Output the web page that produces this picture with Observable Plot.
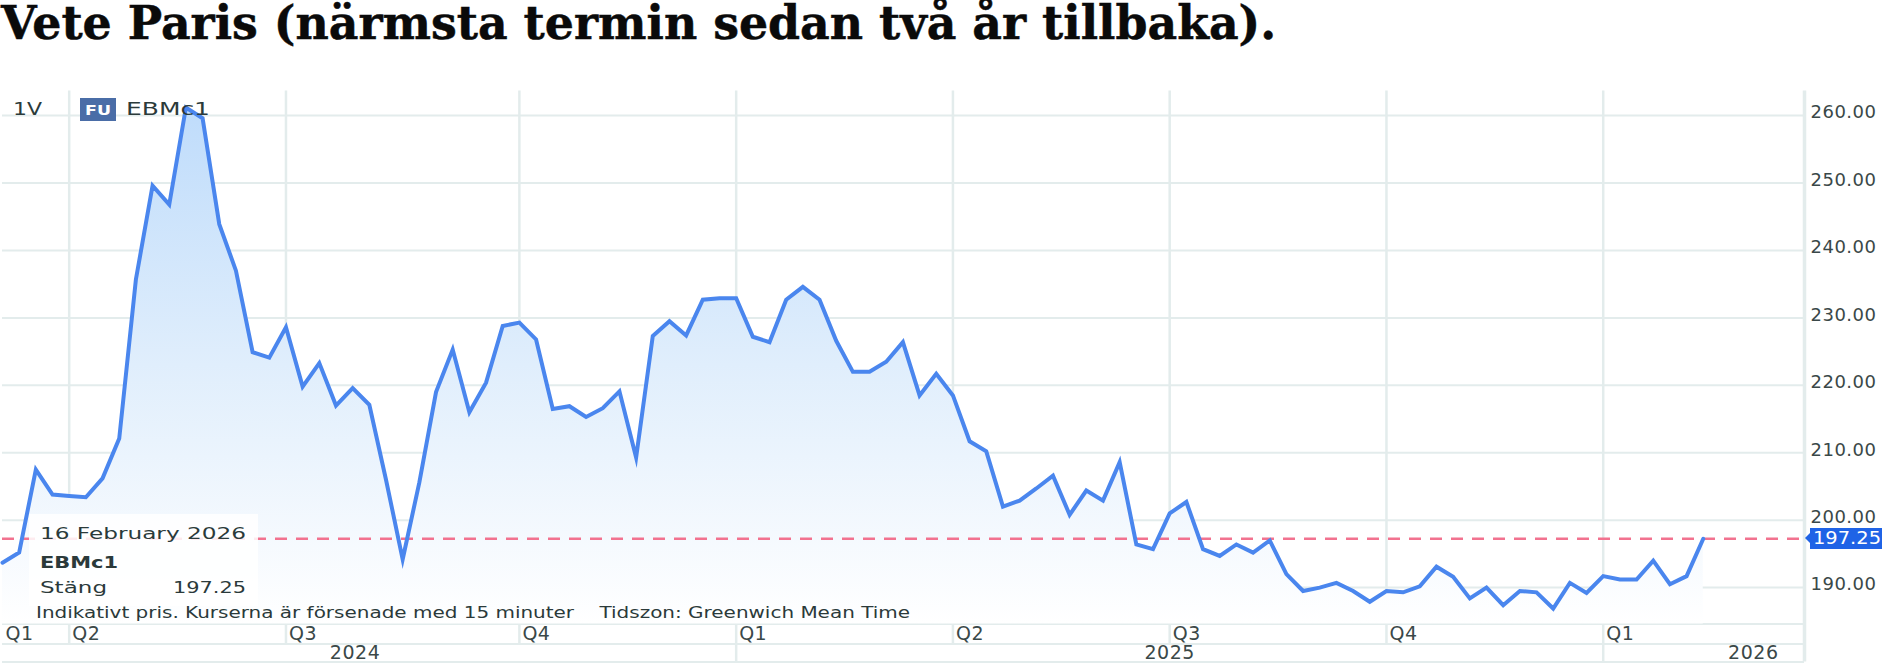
<!DOCTYPE html>
<html lang="sv">
<head>
<meta charset="utf-8">
<script src="https://cdn.jsdelivr.net/npm/d3@7"></script>
<script src="https://cdn.jsdelivr.net/npm/@observablehq/plot@0.6"></script>
<style>
html,body{margin:0;padding:0;background:#fff;width:1891px;height:664px;overflow:hidden}
#wrap{position:relative;width:1891px;height:664px}
h1{margin:0;font:700 45.8px/1 "DejaVu Serif",serif;color:#0a0a0a;white-space:nowrap;position:absolute;left:1px;top:1px;-webkit-text-stroke:.5px #0a0a0a}
#chart{position:absolute;left:0;top:64px}
.o{position:absolute;font-family:"DejaVu Sans",sans-serif;color:#2b3a3a;white-space:pre;line-height:1;transform-origin:0 50%}
</style>
</head>
<body>
<div id="wrap">
<h1>Vete Paris (närmsta termin sedan två år tillbaka).</h1>
<div id="chart"></div>
</div>
<script>
const lastValue = 197.25;
const closes = [
193.7,195.2,207.5,203.8,203.6,203.4,206.2,212.1,235.7,249.6,
246.8,261.2,259.6,243.9,237.0,224.9,224.1,228.6,219.8,223.3,
217.0,219.6,217.1,206.0,194.2,205.6,219.0,225.3,216.0,220.4,
228.8,229.3,226.8,216.5,216.9,215.3,216.6,219.1,209.3,227.3,
229.5,227.4,232.7,232.9,232.9,227.2,226.4,232.7,234.6,232.7,
226.6,222.0,222.0,223.5,226.4,218.5,221.7,218.5,211.7,210.2,
202.0,202.9,204.7,206.6,200.8,204.4,202.9,208.6,196.4,195.7,
201.0,202.7,195.7,194.7,196.4,195.2,197.0,192.0,189.5,190.0,
190.7,189.5,187.9,189.5,189.3,190.2,193.1,191.6,188.4,190.0,
187.4,189.5,189.3,186.9,190.7,189.2,191.7,191.2,191.2,194.0,
190.5,191.7,197.25];
const weeks = d3.utcMonday.range(new Date("2024-03-04"), new Date("2026-02-17"));
const rows = closes.map((close, i) => ({date: weeks[i], close}));

const quarterDates = ["2024-04-01","2024-07-01","2024-10-07","2025-01-06","2025-04-07","2025-07-07","2025-10-06","2026-01-05"].map(d => new Date(d));
const quarterLabelDates = [new Date("2024-03-04"),...quarterDates];
const quarterLabels = ["Q1","Q2","Q3","Q4","Q1","Q2","Q3","Q4","Q1"];
const yearDates = ["2024-07-30","2025-07-07","2026-03-09"].map(d => new Date(d));
const yearLabels = ["2024","2025","2026"];
const yearSeparators = [new Date("2025-01-06"), new Date("2026-01-05")];
const priceTicks = [190,200,210,220,230,240,250,260];

const xDomain = [new Date("2024-03-04"), new Date("2026-03-30T12:00")];
const yBottom = 184.59, yRow2 = 181.63, yRow3 = 178.96;
const gridColor = "#e3ecec";
const labelColor = "#3a4848";

const chart = Plot.plot({
  width:1891, height:600,
  marginTop:26.6, marginBottom:40.4, marginLeft:2, marginRight:87,
  x:{type:"utc", domain:xDomain, axis:null},
  y:{domain:[yBottom,263.63], axis:null},
  style:{background:"#fff"},
  marks:[
    Plot.ruleY(priceTicks,{x1:xDomain[0],x2:xDomain[1],stroke:gridColor,strokeWidth:2}),
    Plot.ruleX(quarterDates,{y1:yRow2,y2:263.63,stroke:gridColor,strokeWidth:2.5}),
    Plot.ruleX(yearSeparators,{y1:yRow3,y2:yRow2,stroke:gridColor,strokeWidth:2.5}),
    Plot.ruleY([yBottom,yRow2,yRow3],{x1:xDomain[0],x2:xDomain[1],stroke:gridColor,strokeWidth:2}),
    Plot.ruleX([xDomain[1]],{y1:yRow3,y2:263.63,stroke:gridColor,strokeWidth:3.5}),
    Plot.areaY(rows,{x:"date",y1:yBottom,y2:"close",fill:"url(#areaFill)"}),
    Plot.ruleY([lastValue],{x1:xDomain[0],x2:xDomain[1],stroke:"#f2728f",strokeWidth:2.5,strokeDasharray:"12 9"}),
    Plot.lineY(rows,{x:"date",y:"close",stroke:"#4a86ee",strokeWidth:4,strokeLinejoin:"miter",strokeMiterlimit:6}),
    Plot.axisY(priceTicks,{anchor:"right",label:null,tickSize:0,tickPadding:6,dy:-3,tickFormat:d3.format(".2f"),fill:labelColor,fontFamily:"DejaVu Sans",fontSize:18}),
    Plot.text(quarterLabelDates,{x:d=>d,y:yBottom,text:(d,i)=>quarterLabels[i],textAnchor:"start",lineAnchor:"top",dx:3,dy:2,fill:labelColor,fontFamily:"DejaVu Sans",fontSize:19}),
    Plot.text(yearDates,{x:d=>d,y:yRow2,text:(d,i)=>yearLabels[i],textAnchor:"middle",lineAnchor:"top",dy:1,fill:labelColor,fontFamily:"DejaVu Sans",fontSize:19})
  ]
});

const ns = "http://www.w3.org/2000/svg";
const defs = document.createElementNS(ns,"defs");
defs.innerHTML = `<linearGradient id="areaFill" x1="0" y1="0" x2="0" y2="1">
<stop offset="0" stop-color="#bfdcfb"/><stop offset="0.5" stop-color="#e0eefc"/><stop offset="1" stop-color="#ffffff"/></linearGradient>`;
chart.prepend(defs);
chart.style.letterSpacing = "0.5px";
document.getElementById("chart").append(chart);

const wrap = document.getElementById("wrap");
function box(css){const d=document.createElement("div");d.style.cssText="position:absolute;"+css;wrap.append(d);return d;}
// a text stretched to the span [x0,x1], sitting on the given baseline
function label(text,x0,x1,baseline,size,extra=""){
  const d=document.createElement("div");d.className="o";d.textContent=text;
  d.style.cssText=`left:${x0}px;top:${baseline-0.846*size}px;font-size:${size}px;${extra}`;
  wrap.append(d);
  d.style.transform=`scaleX(${(x1-x0)/d.getBoundingClientRect().width})`;
  return d;
}
const yLast = 64 + chart.scale("y").apply(lastValue);
label("1V",13,42,116,17.5);
box("left:80px;top:98px;width:36px;height:23px;background:#4a6da7");
label("FU",85,111,115,14,"color:#fff;font-weight:700");
label("EBMc1",126,210,116,17.5);
box("left:29px;top:514px;width:229px;height:92px;background:rgba(255,255,255,.86)");
label("16 February 2026",40,246,540,16);
label("EBMc1",40,118,569,16,"font-weight:700");
label("Stäng",40,107,594,16);
label("197.25",173,246,594,16);
label("Indikativt pris. Kurserna är försenade med 15 minuter    Tidszon: Greenwich Mean Time",36,910,619,16);
box(`left:1810px;top:${yLast-10.5}px;width:72px;height:21px;background:#1f63e6`);
box(`left:1805px;top:${yLast-6}px;width:0;height:0;border-top:6px solid transparent;border-bottom:6px solid transparent;border-right:6px solid #1f63e6`);
label(lastValue.toFixed(2),1813,1881,yLast+6.5,17,"color:#fff");
</script>
</body>
</html>
